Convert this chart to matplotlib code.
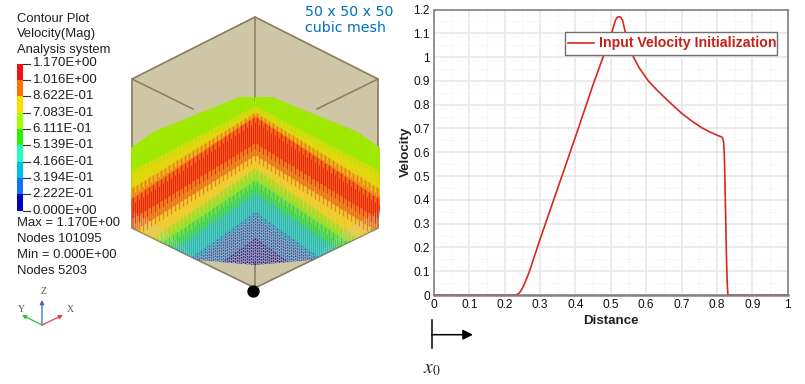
import numpy as np
import matplotlib
matplotlib.use('Agg')
import matplotlib.pyplot as plt
from matplotlib.patches import Polygon, Rectangle, FancyArrowPatch
from matplotlib.ticker import MultipleLocator

plt.rcParams['font.family'] = ['Liberation Sans', 'DejaVu Sans']
plt.rcParams['mathtext.fontset'] = 'stix'

# line plot values
distance = [0, 0.10, 0.23, 0.24, 0.25, 0.26, 0.27, 0.28, 0.29, 0.30, 0.35, 0.40, 0.45, 0.50,
            0.507, 0.513, 0.518, 0.523, 0.528, 0.533, 0.54, 0.55, 0.564,
            0.58, 0.606, 0.63, 0.65, 0.672, 0.70, 0.73, 0.757, 0.78, 0.80, 0.812, 0.816, 0.819,
            0.821, 0.823, 0.825, 0.827, 0.829, 0.831, 0.90, 1.0]
velocity = [0, 0, 0, 0.006, 0.028, 0.062, 0.10, 0.145, 0.19, 0.235, 0.45, 0.665, 0.885, 1.09,
            1.125, 1.155, 1.167, 1.17, 1.167, 1.155, 1.11, 1.06, 1.00,
            0.955, 0.90, 0.862, 0.833, 0.802, 0.764, 0.73, 0.703, 0.685, 0.672, 0.665, 0.66, 0.64,
            0.58, 0.45, 0.30, 0.15, 0.05, 0, 0, 0]

# contour legend
legend_values = ['1.170E+00', '1.016E+00', '8.622E-01', '7.083E-01', '6.111E-01',
                 '5.139E-01', '4.166E-01', '3.194E-01', '2.222E-01', '0.000E+00']
legend_colors = ['#f01010', '#ff7000', '#ffdd00', '#a0ff00', '#30f000',
                 '#20ffc0', '#00c0e0', '#1070ff', '#0000c0']
header_lines = ['Contour Plot', 'Velocity(Mag)', 'Analysis system']
footer_lines = ['Max = 1.170E+00', 'Nodes 101095', 'Min = 0.000E+00', 'Nodes 5203']

# chevron bands in the cube view: colours, y of upper border at centre and at side, solid amount
band_colors = ['#a0e000', '#d8d810', '#f0a818', '#f46818', '#f09020', '#e8c828',
               '#a8d818', '#58d830', '#40c890', '#5888c8', '#6068b8']
band_stripes = ['#a0f000', '#e8d800', '#f08010', '#f02000', '#f07010', '#f8d020',
                '#90e820', '#28d850', '#10c0c8', '#1858c0', '#1818a0']
band_center = [90, 106, 112, 116, 143, 155, 168, 180, 192, 212, 238]
band_side = [140, 170, 188, 198, 219, 232, 252, 262, 275, 300, 326]
band_fill = [0.95, 0.85, 0.8, 0.75, 0.75, 0.7, 0.6, 0.5, 0.35, 0.25, 0.2]

fig = plt.figure(figsize=(8.05, 3.84), dpi=100)
bg = fig.add_axes([0, 0, 1, 1])
bg.set_xlim(0, 805)
bg.set_ylim(384, 0)
bg.axis('off')

# cube
tan = '#cfc6a5'
edge = '#857c62'
bg.add_patch(Polygon([(255, 17), (378, 79), (378, 228), (255, 288), (132, 228), (132, 79)],
                     closed=True, fc=tan, ec=edge, lw=1.2))
for a, b in [((132, 79), (193, 109)), ((378, 79), (317, 109)), ((255, 17), (255, 100)),
             ((255, 262), (255, 288))]:
    bg.plot([a[0], b[0]], [a[1], b[1]], color=edge, lw=1.1)

mesh_clip = Polygon([(131, 148), (193, 103), (202, 97), (310, 97), (318, 103), (380, 148),
                     (380, 208), (378, 228), (312, 260), (255, 265), (198, 260), (132, 228)],
                    closed=True, transform=bg.transData, fc='none', ec='none')
solid_clip = Polygon([(131, 148), (193, 103), (202, 97), (310, 97), (318, 103), (380, 148),
                      (380, 210), (345, 230), (312, 260), (255, 265), (198, 260), (165, 230), (131, 210)],
                     closed=True, transform=bg.transData, fc='none', ec='none')
bg.add_patch(mesh_clip)
bg.add_patch(solid_clip)

xs = np.arange(131, 380.5, 0.5)
cols = np.arange(131, 380.5, 2.0)
center = np.array(band_center, dtype=float)
side = np.array(band_side, dtype=float)


def border(i, x):
    return center[i] + (side[i] - center[i]) * np.abs(x - 255) / 123


def band_limits(i, x):
    top = border(i, x)
    bottom = border(i + 1, x) if i + 1 < len(band_colors) else top + 60
    return top, bottom


for i in range(len(band_colors)):
    top, bottom = band_limits(i, xs)
    poly = bg.fill_between(xs, top, bottom, color=band_colors[i], alpha=band_fill[i], lw=0)
    poly.set_clip_path(solid_clip)

for i in range(len(band_colors)):
    top_c, bottom_c = band_limits(i, cols)
    ls = (0, (1.3, 0.7)) if i >= 9 else 'solid'
    stripes = bg.vlines(cols, top_c, bottom_c, color=band_stripes[i], lw=1.0, alpha=0.95, linestyles=ls)
    stripes.set_clip_path(mesh_clip)

# every other column runs on into the band below
for i in range(len(band_colors) - 2):
    top_c, bottom_c = band_limits(i, cols[::2])
    stripes = bg.vlines(cols[::2], bottom_c - 1, bottom_c + 6, color=band_stripes[i], lw=0.9, alpha=0.8)
    stripes.set_clip_path(mesh_clip)

bg.scatter([253], [291], s=62, color='black', zorder=5)

# contour legend
for i, c in enumerate(legend_colors):
    bg.add_patch(Rectangle((17, 63.5 + i * 16.35), 6, 16.35, fc=c, ec='none'))
for i, v in enumerate(legend_values):
    y = 63.5 + i * 16.35
    bg.plot([23, 30], [y, y], color='#303030', lw=0.8)
    bg.text(32.5, y, v, fontsize=9.5, va='center', ha='left', color='#202020')
for i, t in enumerate(header_lines):
    bg.text(17, 18.5 + i * 15.5, t, fontsize=9.4, va='center', ha='left', color='#202020')
for i, t in enumerate(footer_lines):
    bg.text(17, 223 + i * 16, t, fontsize=9.4, va='center', ha='left', color='#202020')

# triad
for tip, c in [((42, 300), '#4060e0'), ((22, 315), '#30c040'), ((63, 315), '#e84040')]:
    bg.add_patch(FancyArrowPatch((42, 325), tip, arrowstyle='-|>', mutation_scale=6, color=c, lw=0.9,
                                 shrinkA=0, shrinkB=0))
for s, x, y in [('Z', 44, 292), ('Y', 21, 309), ('X', 70, 310)]:
    bg.text(x, y, s, fontsize=7, family='Liberation Serif', color='#555555', ha='center', va='center')

bg.text(305, 12.5, '50 x 50 x 50', fontsize=10.2, family='DejaVu Sans', color='#0070c0', va='center')
bg.text(305, 28, 'cubic mesh', fontsize=10.2, family='DejaVu Sans', color='#0070c0', va='center')

# x0 marker
bg.plot([431.7, 431.7], [320, 348], color='black', lw=1.1)
bg.add_patch(FancyArrowPatch((431.7, 334.7), (473, 334.7), arrowstyle='-|>', mutation_scale=15,
                             color='black', lw=1.1, shrinkA=0, shrinkB=0))
bg.text(432, 369, r'$x_0$', fontsize=14, ha='center', va='center', color='#222222')

# velocity chart
ax = fig.add_axes([434 / 805, 1 - 295 / 384, (787.7 - 434) / 805, (295 - 9.5) / 384])
ax.patch.set_alpha(0)
ax.plot(distance, velocity, color='#d8281c', lw=1.2, label='Input Velocity Initialization',
        clip_on=False, zorder=2.5)
ax.set_xlim(0, 1)
ax.set_ylim(0, 1.2)
ax.xaxis.set_major_locator(MultipleLocator(0.1))
ax.yaxis.set_major_locator(MultipleLocator(0.1))
ax.xaxis.set_minor_locator(MultipleLocator(0.05))
ax.yaxis.set_minor_locator(MultipleLocator(0.05))
ax.grid(which='major', color='#e8e8e8', lw=1.2)
ax.grid(which='minor', color='#ececec', lw=0.7, ls=':')
ax.set_axisbelow(True)
ax.xaxis.set_major_formatter(lambda v, p: f'{v:.1f}'.rstrip('0').rstrip('.') if v else '0')
ax.yaxis.set_major_formatter(lambda v, p: f'{v:.1f}'.rstrip('0').rstrip('.') if v else '0')
ax.tick_params(which='both', length=0, labelsize=8.6, pad=3, colors='#111111')
for s in ax.spines.values():
    s.set_color('#808080')
    s.set_linewidth(1.2)
ax.spines['bottom'].set_linewidth(1.8)
ax.set_xlabel('Distance', fontsize=9.6, fontweight='bold', labelpad=3, color='#222222')
ax.set_ylabel('Velocity', fontsize=9.6, fontweight='bold', color='#222222')
ax.yaxis.set_label_coords(-0.062, 0.5)

# legend box is drawn by hand, its sides are tighter than a legend frame allows
ax.add_patch(Rectangle((565, 32), 212, 23, transform=bg.transData, fc='white', ec='#707070', lw=1.0,
                       zorder=3, clip_on=False))
leg = ax.legend(loc='center left', bbox_to_anchor=(567.5, 43.5), bbox_transform=bg.transData,
                frameon=False, prop={'size': 10.2, 'weight': 'bold'}, labelcolor='#c82018',
                borderpad=0, handlelength=1.9, handletextpad=0.3, borderaxespad=0)

fig.savefig('out.png', dpi=100)
